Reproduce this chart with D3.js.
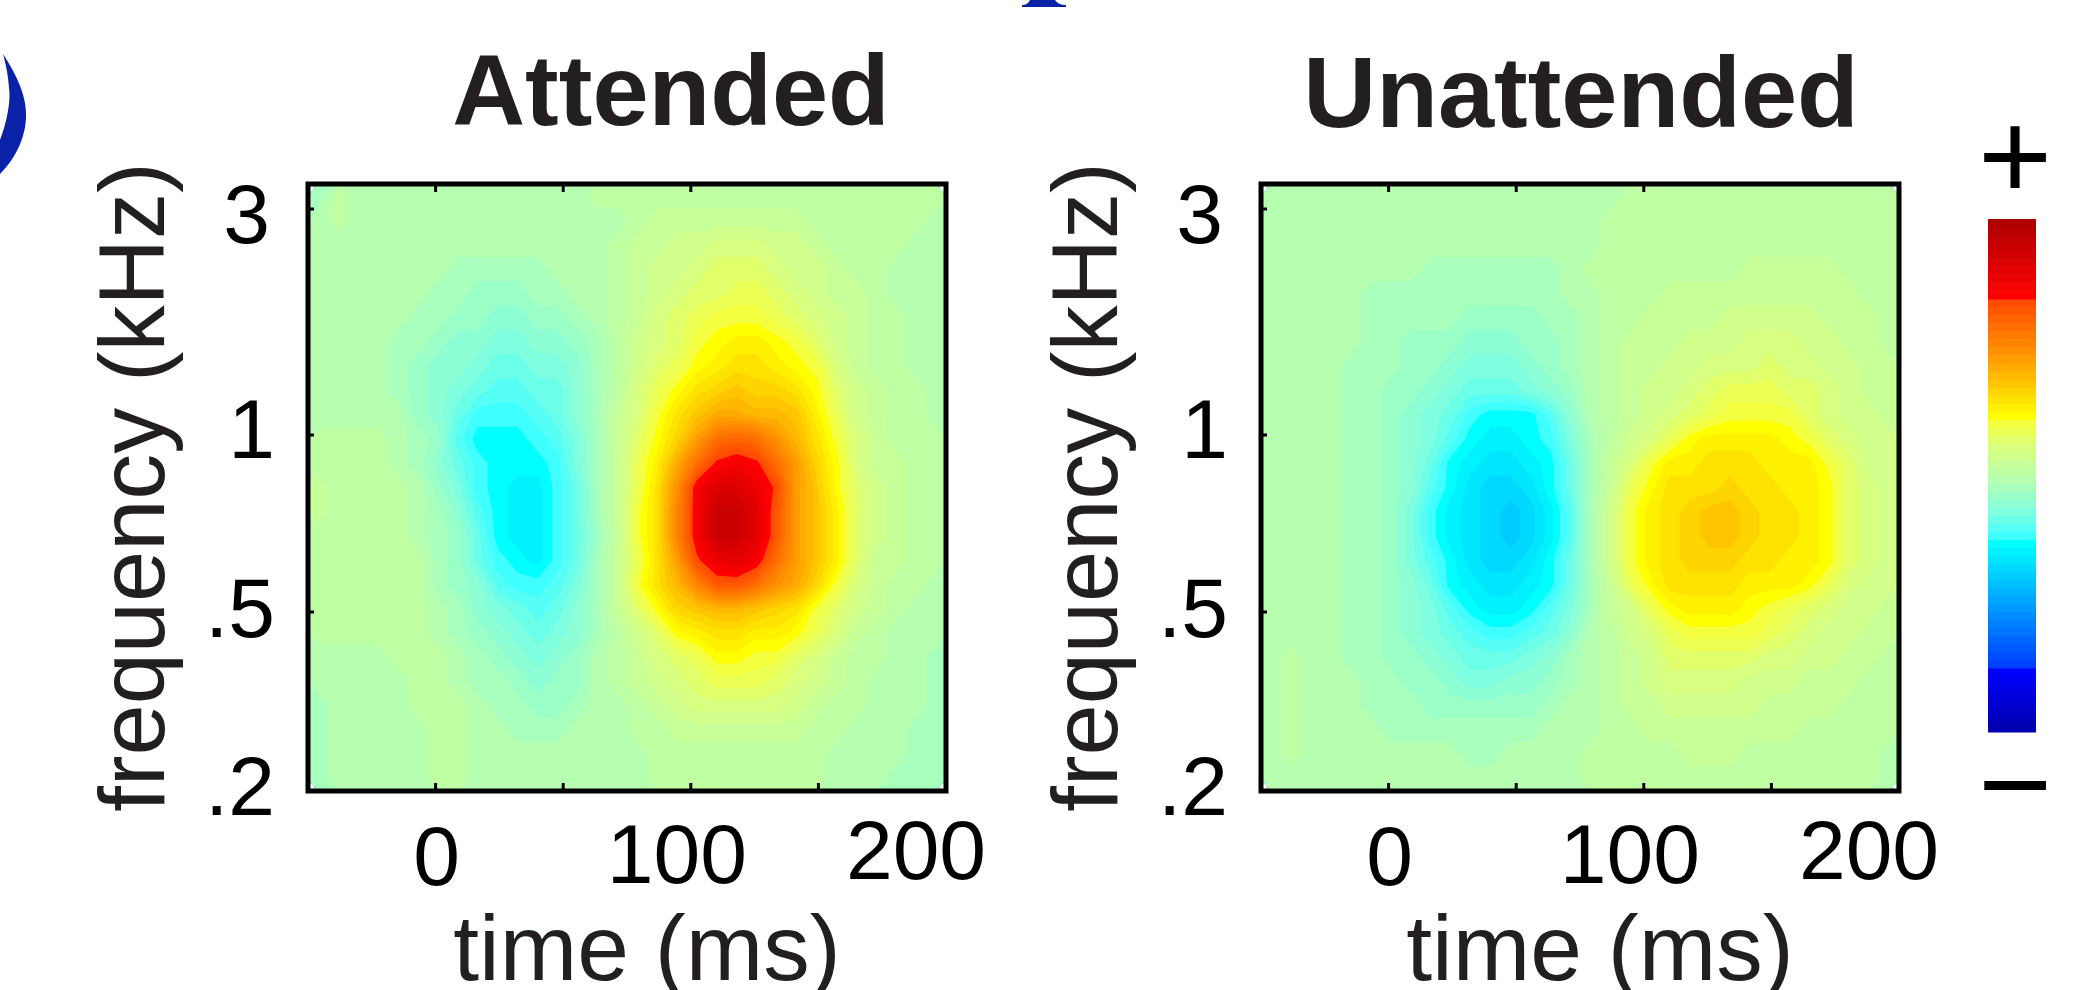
<!DOCTYPE html>
<html>
<head>
<meta charset="utf-8">
<title>Attended / Unattended</title>
<script src="https://cdn.jsdelivr.net/npm/d3@7"></script>
<style>
html, body { margin: 0; padding: 0; background: #fff; overflow: hidden; }
svg { display: block; }
text { font-family: "Liberation Sans", Arial, sans-serif; }
</style>
</head>
<body>
<div id="chart"></div>
<script>
// values, as colour levels 0-63 (31 = background green)
// one row per frequency, top to bottom; one column per time step, left to right
var attended = [
[30,32,31,31,31,31,31,31,31,31,31,31,31,31,32,32,32,32,32,32,32,32,32,32,32,32,32,32,32,32,32,32],
[31,32,31,31,31,31,31,31,31,31,31,31,31,31,31,31,32,33,33,33,33,33,33,33,33,32,32,32,32,32,32,31],
[31,31,31,31,31,31,31,31,31,31,31,31,31,31,31,32,33,33,34,34,35,35,35,34,34,33,32,32,32,32,31,31],
[31,31,31,31,31,31,31,30,30,30,30,30,31,31,31,32,33,34,34,35,36,36,36,35,34,34,33,32,32,31,31,31],
[31,31,31,31,31,31,30,30,29,29,29,30,30,31,31,32,33,34,35,36,36,37,37,36,35,34,33,33,32,31,31,31],
[31,31,31,31,31,30,30,29,29,28,28,29,29,30,31,32,33,35,36,37,38,38,38,37,36,35,34,33,32,32,31,31],
[31,31,31,31,30,30,29,28,28,27,27,28,28,29,30,32,34,35,36,38,39,40,40,39,38,36,34,33,32,32,31,31],
[31,31,31,31,30,29,28,28,27,26,26,27,27,28,30,32,34,36,37,39,40,41,41,40,39,38,35,33,32,32,31,31],
[31,31,31,31,30,29,28,27,26,25,25,26,26,28,30,32,35,37,39,41,42,43,42,42,41,39,36,34,33,32,32,31],
[31,31,31,31,31,29,28,26,24,24,24,25,26,28,30,33,35,38,41,43,45,45,44,44,43,40,37,34,33,32,32,31],
[32,32,32,32,31,30,29,25,23,23,23,24,25,27,30,33,36,39,42,46,50,51,50,47,44,41,38,35,33,32,32,32],
[32,32,32,32,31,30,28,26,24,23,23,23,24,27,30,33,37,40,45,50,54,55,54,50,46,42,39,35,33,33,32,32],
[33,32,32,32,32,31,29,27,24,23,22,22,24,26,30,33,37,41,47,55,58,58,56,53,46,43,39,36,34,33,32,32],
[33,32,32,32,32,31,30,28,25,23,22,22,24,26,30,33,38,41,48,55,60,60,57,52,46,43,40,36,34,33,32,32],
[32,32,32,32,32,31,30,29,26,23,22,22,24,26,29,33,38,41,48,55,60,60,57,52,46,43,40,36,34,33,32,32],
[32,32,32,32,32,32,30,29,26,24,23,22,24,26,30,33,37,41,46,53,56,57,55,50,46,43,40,36,33,33,32,32],
[32,32,32,32,32,32,30,29,28,25,24,24,25,27,30,33,38,41,44,48,52,52,50,47,45,42,38,35,33,32,32,31],
[32,32,32,32,32,32,31,30,28,27,26,25,26,28,30,33,36,39,42,43,44,44,43,42,41,38,36,34,33,32,31,31],
[32,32,32,32,32,32,31,30,29,28,27,26,27,28,30,32,34,36,39,40,41,41,40,40,39,37,35,33,32,31,31,31],
[31,31,31,31,32,32,32,31,30,29,28,27,28,29,31,32,33,35,36,37,39,39,38,38,36,35,33,32,32,31,31,30],
[31,31,31,31,31,32,32,31,30,30,29,28,29,29,31,32,33,34,35,36,37,37,37,36,35,34,33,32,31,31,31,30],
[30,31,31,31,31,32,32,32,31,30,30,29,29,30,31,31,32,33,34,35,35,35,35,35,34,33,32,32,31,31,31,30],
[30,31,31,31,31,31,32,32,31,31,30,30,30,31,31,31,32,32,33,33,33,33,33,33,33,32,32,31,31,31,30,30],
[30,31,31,31,31,31,32,32,31,31,31,31,31,31,31,31,31,32,32,32,32,32,32,32,32,32,31,31,31,31,30,30],
[30,31,31,31,31,31,32,32,31,31,31,31,31,31,31,31,31,32,32,32,32,32,32,32,32,32,31,31,31,30,30,30]
];
var unattended = [
[31,31,31,31,31,31,31,31,31,31,31,31,31,31,31,31,31,31,32,32,32,32,32,32,32,32,32,32,32,32,32,32],
[31,31,31,31,31,31,31,31,31,31,31,31,31,31,31,31,31,32,32,32,32,32,32,32,32,32,32,32,32,32,32,32],
[31,31,31,31,31,31,31,31,31,31,31,31,31,31,31,31,31,32,32,32,32,32,32,32,32,32,32,32,32,32,32,32],
[31,31,31,31,31,31,31,31,30,30,30,30,30,30,30,31,32,32,32,32,32,32,32,32,33,33,33,33,33,32,32,32],
[31,31,31,31,31,30,30,30,30,30,30,30,30,30,30,31,31,32,32,32,33,33,33,33,33,33,33,33,33,33,32,32],
[31,31,31,31,31,30,30,30,30,30,29,29,29,29,30,30,31,32,32,33,33,33,33,34,34,34,34,34,33,33,33,32],
[31,31,31,31,31,30,30,29,29,29,28,28,28,29,29,30,31,32,33,33,33,34,34,34,35,35,35,34,34,33,33,32],
[31,31,31,31,30,30,30,29,29,28,27,27,27,28,29,30,31,32,33,33,34,34,35,35,35,36,35,35,34,34,33,33],
[31,31,31,31,30,30,29,29,28,27,26,26,26,27,28,29,31,32,33,34,34,35,36,37,37,37,36,36,35,34,33,33],
[31,31,31,31,30,30,29,28,27,26,24,23,23,23,25,28,31,32,33,34,35,36,37,38,38,38,38,36,35,34,34,33],
[31,31,31,31,30,30,29,28,27,25,23,22,22,23,24,27,30,32,34,35,37,39,40,40,40,40,39,38,36,35,34,34],
[31,31,31,31,30,30,29,28,26,23,22,21,21,22,23,26,30,33,35,38,40,40,41,41,41,40,40,40,38,36,34,34],
[31,31,31,31,30,30,29,28,25,23,21,20,20,21,23,26,30,33,37,39,41,41,41,42,41,41,40,40,39,36,35,34],
[31,31,31,31,30,30,29,27,24,22,21,20,19,20,22,25,30,34,38,40,41,42,43,43,42,41,41,40,39,36,35,34],
[31,31,31,31,30,30,29,27,24,22,21,20,19,20,22,25,30,34,38,40,41,42,43,43,42,41,41,40,39,36,35,34],
[31,31,31,31,30,30,29,27,25,23,21,20,20,21,23,26,30,34,38,40,41,42,42,42,41,41,40,40,39,36,35,34],
[31,31,31,31,30,30,29,28,26,23,22,21,21,22,23,26,30,33,37,39,41,41,41,41,40,40,40,39,37,35,34,34],
[31,31,31,31,30,30,29,28,27,25,23,22,22,23,25,27,30,33,34,37,39,40,40,40,39,38,37,36,35,34,34,33],
[31,31,31,31,30,30,29,28,27,26,25,24,24,25,26,28,31,32,34,35,37,38,38,38,38,37,36,35,34,34,33,33],
[31,32,31,31,30,30,29,29,28,27,26,26,26,27,28,30,31,32,33,34,36,36,36,36,36,35,35,34,34,33,33,32],
[31,32,31,31,31,30,30,29,29,28,27,27,28,28,29,30,31,32,33,34,35,35,35,35,34,34,34,33,33,33,32,32],
[31,32,31,31,31,30,30,30,29,29,29,29,29,29,30,31,31,32,33,33,34,34,34,34,34,33,33,33,33,32,32,32],
[31,32,31,31,31,31,30,30,30,30,30,30,30,30,31,31,31,32,32,33,33,33,33,33,33,33,33,32,32,32,32,32],
[31,32,31,31,31,31,31,31,31,31,30,30,31,31,31,31,32,32,32,32,32,33,33,33,32,32,32,32,32,32,32,31],
[31,31,31,31,31,31,31,31,31,31,31,31,31,31,31,31,32,32,32,32,32,32,32,32,32,32,32,32,32,32,32,31]
];
var titles = ["Attended", "Unattended"];
var xTicks = [0, 50, 100, 150];
var xTopTicks = [0, 50, 100];
var xLabels = [0, 100, 200];
var yTicks = [3, 1, .5];
var yLabels = [3, 1, .5, .2];

var widthx = 2093;//画布宽度
var heighty = 990;//画布高度
var panelW = 638;
var panelH = 607;
var panelTop = 184;
var panelLeft = [308, 1261];
var titleBase = [125, 127];
var inkTitle = "#231f20";

var svg = d3.select("#chart")
    .append("svg")
    .attr("width", widthx)
    .attr("height", heighty);

// colour map as on the colour bar, level 0 at the bottom
var colorOf = d3.scaleLinear()
    .domain([0, 7, 8, 23, 24, 27, 31, 35, 38, 39, 46, 53, 54, 63])
    .range(["#0000b0", "#0000ff", "#0040ff", "#00ffff", "#40ffff", "#80ffe0", "#b6ffb0",
            "#d8ff80", "#f4ff40", "#ffff00", "#ff9c00", "#ff4c00", "#ff0000", "#b00000"]);
var levels = d3.range(64);

function drawPanel(rows, idx) {
    var g = svg.append("g")
        .attr("transform", "translate(" + panelLeft[idx] + "," + panelTop + ")");

    var x = d3.scaleLinear().domain([-50, 200]).range([0, panelW]);
    // tick spacing on the figure is not a true log axis, so piecewise
    var y = d3.scaleLinear()
        .domain([.2, .5, 1, 3, 3.22])
        .range([panelH, panelH - 179, panelH - 356, panelH - 582, 0]);

    var nx = rows[0].length, ny = rows.length;
    var gridX = d3.scaleLinear().domain([0, nx]).range([0, panelW]);
    var gridY = d3.scaleLinear().domain([0, ny]).range([0, panelH]);
    var path = d3.geoPath(d3.geoTransform({
        point: function(px, py) { this.stream.point(gridX(px), gridY(py)); }
    }));
    var contours = d3.contours()
        .size([nx, ny])
        .thresholds(levels.map(function(k) { return k - .5; }))(d3.merge(rows));

    g.selectAll(".band")
        .data(contours)
        .enter().append("path")
        .attr("class", "band")
        .attr("d", path)
        .attr("fill", function(d) { return colorOf(d.value + .5); });

    // ticks point inwards
    g.selectAll(".tickb").data(xTicks).enter().append("line")
        .attr("x1", function(d) { return x(d); }).attr("x2", function(d) { return x(d); })
        .attr("y1", panelH).attr("y2", panelH - 8)
        .attr("stroke", "#000").attr("stroke-width", 3);
    g.selectAll(".tickt").data(xTopTicks).enter().append("line")
        .attr("x1", function(d) { return x(d); }).attr("x2", function(d) { return x(d); })
        .attr("y1", 0).attr("y2", 8)
        .attr("stroke", "#000").attr("stroke-width", 3);
    g.selectAll(".tickl").data(yTicks).enter().append("line")
        .attr("x1", 0).attr("x2", 6)
        .attr("y1", function(d) { return y(d); }).attr("y2", function(d) { return y(d); })
        .attr("stroke", "#000").attr("stroke-width", 3);

    g.append("rect")
        .attr("width", panelW).attr("height", panelH)
        .attr("fill", "none").attr("stroke", "#000").attr("stroke-width", 5);

    // x tick labels sit off the ticks on the figure
    var xShift = {0: 1, 100: -14, 200: -30};
    var xBase = {0: 94, 100: 92, 200: 88};
    g.selectAll(".xlab").data(xLabels).enter().append("text")
        .attr("x", function(d) { return x(d) + xShift[d]; })
        .attr("y", function(d) { return panelH + xBase[d]; })
        .attr("text-anchor", "middle")
        .attr("font-size", 84)
        .text(function(d) { return d; });

    var yBase = {3: 59, 1: 274, .5: 453, .2: 631};
    g.selectAll(".ylab").data(yLabels).enter().append("text")
        .attr("x", function(d) { return d == 3 ? -38 : -33; })
        .attr("y", function(d) { return yBase[d]; })
        .attr("text-anchor", "end")
        .attr("font-size", 84)
        .text(function(d) { return String(d).replace("0.", "."); });

    g.append("text")
        .attr("x", 339).attr("y", 796)
        .attr("text-anchor", "middle")
        .attr("font-size", 93)
        .attr("fill", inkTitle)
        .text("time (ms)");

    g.append("text")
        .attr("transform", "translate(-144,303) rotate(-90)")
        .attr("text-anchor", "middle")
        .attr("font-size", 92)
        .attr("fill", inkTitle)
        .text("frequency (kHz)");

    g.append("text")
        .attr("x", idx == 0 ? 363 : 320).attr("y", titleBase[idx] - panelTop)
        .attr("text-anchor", "middle")
        .attr("font-size", 101)
        .attr("font-weight", "bold")
        .attr("fill", inkTitle)
        .text(titles[idx]);
}

drawPanel(attended, 0);
drawPanel(unattended, 1);

// colour bar
var barY = d3.scaleBand()
    .domain(levels.slice().reverse())
    .range([219, 732]);
svg.selectAll(".barcell")
    .data(levels)
    .enter().append("rect")
    .attr("class", "barcell")
    .attr("x", 1988)
    .attr("y", function(d) { return barY(d); })
    .attr("width", 48)
    .attr("height", barY.bandwidth() + .5)
    .attr("fill", function(d) { return colorOf(d); });
svg.append("text").attr("x", 2015).attr("y", 199).attr("text-anchor", "middle")
    .attr("font-size", 127).text("+");
svg.append("text").attr("x", 2015).attr("y", 828).attr("text-anchor", "middle")
    .attr("font-size", 127).text("−");

// bits of the neighbouring panel cut off by the crop
svg.append("path")
    .attr("fill", "#0a22a8")
    .attr("d", "M3,54 C20,80 27,100 26,118 C25,140 14,160 0,174 L0,140 C7,122 11,100 9,88 C8,75 6,65 3,54 Z");
svg.append("path")
    .attr("fill", "#0a22a8")
    .attr("d", "M1030,0 Q1028,5 1022,5 L1022,7 L1066,7 L1066,5 Q1058,5 1055,0 Z");
</script>
</body>
</html>
